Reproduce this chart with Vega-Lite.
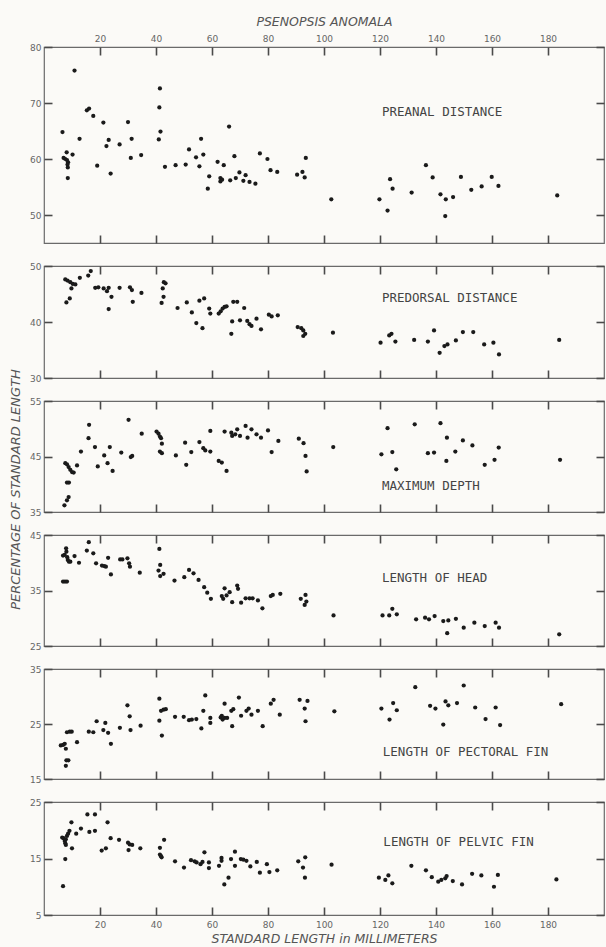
{
  "$schema": "https://vega.github.io/schema/vega-lite/v6.json",
  "background": "#fbfaf7",
  "padding": {"left": 8, "top": 14, "right": 1, "bottom": 3},
  "bounds": "flush",
  "spacing": 23,
  "datasets": {
    "preanal": [
      {"sl":6.6,"pct":64.8},{"sl":10.9,"pct":75.8},{"sl":15.3,"pct":68.7},{"sl":16.1,"pct":69.0},{"sl":17.6,"pct":67.7},{"sl":21.2,"pct":66.5},{"sl":12.7,"pct":63.6},{"sl":8.1,"pct":61.2},{"sl":10.2,"pct":60.8},{"sl":7.0,"pct":60.2},{"sl":7.6,"pct":60.0},{"sl":8.2,"pct":59.8},{"sl":8.6,"pct":59.4},{"sl":8.4,"pct":59.0},{"sl":8.5,"pct":58.5},{"sl":8.5,"pct":56.6},{"sl":19.0,"pct":58.8},{"sl":22.3,"pct":62.3},{"sl":23.1,"pct":63.4},{"sl":23.8,"pct":57.4},{"sl":27.0,"pct":62.6},{"sl":30.0,"pct":66.6},{"sl":31.3,"pct":63.6},{"sl":31.0,"pct":60.2},{"sl":34.7,"pct":60.7},{"sl":41.4,"pct":72.6},{"sl":41.2,"pct":69.2},{"sl":41.6,"pct":64.9},{"sl":41.0,"pct":63.5},{"sl":43.2,"pct":58.6},{"sl":47.0,"pct":58.9},{"sl":50.6,"pct":59.0},{"sl":51.8,"pct":61.7},{"sl":54.3,"pct":60.3},{"sl":55.5,"pct":58.7},{"sl":56.1,"pct":63.6},{"sl":56.9,"pct":60.8},{"sl":59.0,"pct":56.9},{"sl":58.5,"pct":54.7},{"sl":62.0,"pct":59.5},{"sl":64.2,"pct":58.9},{"sl":63.0,"pct":56.6},{"sl":63.0,"pct":56.0},{"sl":63.6,"pct":56.3},{"sl":66.1,"pct":65.8},{"sl":66.5,"pct":56.2},{"sl":68.0,"pct":60.5},{"sl":68.5,"pct":56.6},{"sl":69.8,"pct":57.6},{"sl":71.2,"pct":56.1},{"sl":72.0,"pct":57.1},{"sl":73.4,"pct":55.9},{"sl":75.5,"pct":55.6},{"sl":77.1,"pct":61.0},{"sl":79.8,"pct":60.0},{"sl":80.9,"pct":58.0},{"sl":83.3,"pct":57.7},{"sl":90.4,"pct":57.2},{"sl":92.3,"pct":57.7},{"sl":93.1,"pct":56.7},{"sl":93.5,"pct":60.2},{"sl":102.6,"pct":52.8},{"sl":119.8,"pct":52.8},{"sl":122.7,"pct":50.8},{"sl":123.6,"pct":56.4},{"sl":124.5,"pct":54.7},{"sl":131.3,"pct":54.0},{"sl":136.4,"pct":58.9},{"sl":138.8,"pct":56.7},{"sl":141.6,"pct":53.7},{"sl":143.5,"pct":52.8},{"sl":143.3,"pct":49.8},{"sl":146.1,"pct":53.2},{"sl":148.9,"pct":56.8},{"sl":152.6,"pct":54.5},{"sl":156.3,"pct":55.1},{"sl":159.9,"pct":56.8},{"sl":162.3,"pct":55.2},{"sl":183.3,"pct":53.5}
    ],
    "predorsal": [
      {"sl":7.6,"pct":47.6},{"sl":8.4,"pct":47.4},{"sl":9.4,"pct":47.1},{"sl":10.3,"pct":46.8},{"sl":11.2,"pct":46.7},{"sl":9.8,"pct":46.0},{"sl":9.2,"pct":44.2},{"sl":8.0,"pct":43.5},{"sl":12.8,"pct":47.9},{"sl":15.8,"pct":48.3},{"sl":16.7,"pct":49.1},{"sl":18.3,"pct":46.1},{"sl":19.4,"pct":46.2},{"sl":21.3,"pct":46.0},{"sl":22.5,"pct":45.5},{"sl":23.1,"pct":46.1},{"sl":24.1,"pct":44.5},{"sl":23.1,"pct":42.3},{"sl":27.0,"pct":46.1},{"sl":30.7,"pct":46.2},{"sl":31.4,"pct":45.7},{"sl":31.7,"pct":43.6},{"sl":34.8,"pct":45.2},{"sl":42.8,"pct":47.1},{"sl":43.4,"pct":46.9},{"sl":42.4,"pct":46.0},{"sl":42.7,"pct":44.5},{"sl":42.0,"pct":43.4},{"sl":47.7,"pct":42.5},{"sl":51.0,"pct":43.5},{"sl":52.8,"pct":41.7},{"sl":54.4,"pct":39.8},{"sl":55.5,"pct":43.8},{"sl":57.2,"pct":44.2},{"sl":56.6,"pct":38.9},{"sl":59.0,"pct":42.4},{"sl":59.4,"pct":41.5},{"sl":62.4,"pct":41.5},{"sl":63.1,"pct":41.9},{"sl":63.8,"pct":42.4},{"sl":64.5,"pct":42.7},{"sl":65.2,"pct":42.8},{"sl":67.6,"pct":43.6},{"sl":69.0,"pct":43.6},{"sl":71.5,"pct":42.5},{"sl":67.2,"pct":40.1},{"sl":70.0,"pct":40.3},{"sl":66.9,"pct":37.9},{"sl":72.6,"pct":40.2},{"sl":73.4,"pct":39.6},{"sl":74.1,"pct":39.3},{"sl":75.9,"pct":40.6},{"sl":77.5,"pct":38.7},{"sl":80.3,"pct":41.3},{"sl":81.3,"pct":41.0},{"sl":83.5,"pct":41.2},{"sl":90.6,"pct":39.1},{"sl":91.9,"pct":38.9},{"sl":92.6,"pct":38.5},{"sl":93.3,"pct":37.9},{"sl":92.6,"pct":37.5},{"sl":103.2,"pct":38.1},{"sl":120.2,"pct":36.3},{"sl":123.3,"pct":37.6},{"sl":124.1,"pct":37.9},{"sl":125.5,"pct":36.5},{"sl":132.2,"pct":36.8},{"sl":137.1,"pct":36.5},{"sl":139.3,"pct":38.5},{"sl":141.3,"pct":34.5},{"sl":143.0,"pct":35.7},{"sl":144.1,"pct":36.0},{"sl":147.1,"pct":36.7},{"sl":149.6,"pct":38.2},{"sl":153.3,"pct":38.2},{"sl":157.2,"pct":36.0},{"sl":160.5,"pct":36.3},{"sl":162.5,"pct":34.2},{"sl":184.0,"pct":36.8}
    ],
    "depth": [
      {"sl":7.3,"pct":36.2},{"sl":8.2,"pct":37.1},{"sl":8.8,"pct":37.7},{"sl":8.2,"pct":40.3},{"sl":8.9,"pct":40.3},{"sl":7.6,"pct":43.8},{"sl":8.2,"pct":43.6},{"sl":8.8,"pct":43.1},{"sl":9.4,"pct":42.6},{"sl":10.0,"pct":42.2},{"sl":10.6,"pct":42.1},{"sl":11.8,"pct":43.4},{"sl":13.2,"pct":45.9},{"sl":16.1,"pct":50.7},{"sl":15.9,"pct":48.3},{"sl":18.2,"pct":46.7},{"sl":19.2,"pct":43.2},{"sl":21.5,"pct":45.2},{"sl":22.7,"pct":43.8},{"sl":23.5,"pct":46.7},{"sl":24.5,"pct":42.4},{"sl":27.6,"pct":45.7},{"sl":30.2,"pct":51.6},{"sl":31.0,"pct":44.9},{"sl":31.5,"pct":45.1},{"sl":34.9,"pct":49.1},{"sl":40.2,"pct":49.5},{"sl":40.9,"pct":49.1},{"sl":41.4,"pct":48.6},{"sl":41.8,"pct":48.3},{"sl":42.1,"pct":47.3},{"sl":41.4,"pct":45.9},{"sl":42.1,"pct":45.6},{"sl":47.1,"pct":45.2},{"sl":50.4,"pct":47.5},{"sl":50.8,"pct":43.5},{"sl":52.6,"pct":45.8},{"sl":55.5,"pct":47.6},{"sl":56.9,"pct":46.5},{"sl":57.6,"pct":46.1},{"sl":59.4,"pct":45.9},{"sl":59.4,"pct":49.6},{"sl":62.4,"pct":44.2},{"sl":63.5,"pct":43.9},{"sl":65.2,"pct":42.4},{"sl":64.5,"pct":49.5},{"sl":66.9,"pct":49.3},{"sl":67.2,"pct":48.7},{"sl":68.3,"pct":49.0},{"sl":69.0,"pct":49.9},{"sl":70.0,"pct":48.7},{"sl":72.0,"pct":50.5},{"sl":72.7,"pct":48.4},{"sl":74.1,"pct":49.9},{"sl":75.9,"pct":49.0},{"sl":77.5,"pct":48.4},{"sl":80.0,"pct":49.7},{"sl":81.3,"pct":45.8},{"sl":83.7,"pct":47.8},{"sl":91.0,"pct":48.2},{"sl":92.7,"pct":47.4},{"sl":93.4,"pct":45.1},{"sl":93.8,"pct":42.3},{"sl":103.3,"pct":46.7},{"sl":120.5,"pct":45.4},{"sl":122.7,"pct":50.1},{"sl":124.4,"pct":45.8},{"sl":125.8,"pct":42.7},{"sl":132.4,"pct":50.8},{"sl":137.1,"pct":45.6},{"sl":139.3,"pct":45.7},{"sl":141.6,"pct":51.0},{"sl":143.9,"pct":48.4},{"sl":143.7,"pct":44.2},{"sl":146.9,"pct":45.9},{"sl":149.6,"pct":47.9},{"sl":153.0,"pct":47.0},{"sl":157.4,"pct":43.5},{"sl":160.9,"pct":44.4},{"sl":162.4,"pct":46.6},{"sl":184.3,"pct":44.4}
    ],
    "head": [
      {"sl":6.8,"pct":41.3},{"sl":7.4,"pct":41.4},{"sl":7.9,"pct":42.6},{"sl":8.0,"pct":42.0},{"sl":8.3,"pct":41.0},{"sl":8.5,"pct":40.5},{"sl":8.9,"pct":40.2},{"sl":9.4,"pct":40.2},{"sl":6.8,"pct":36.6},{"sl":7.5,"pct":36.6},{"sl":8.2,"pct":36.6},{"sl":10.9,"pct":41.2},{"sl":12.5,"pct":40.0},{"sl":16.0,"pct":43.7},{"sl":15.3,"pct":42.2},{"sl":17.6,"pct":41.7},{"sl":18.6,"pct":39.9},{"sl":20.7,"pct":39.5},{"sl":21.5,"pct":39.4},{"sl":22.1,"pct":39.3},{"sl":22.9,"pct":40.9},{"sl":23.9,"pct":37.9},{"sl":27.2,"pct":40.6},{"sl":28.0,"pct":40.6},{"sl":29.8,"pct":40.8},{"sl":30.4,"pct":39.9},{"sl":30.7,"pct":39.3},{"sl":34.2,"pct":38.2},{"sl":41.2,"pct":42.5},{"sl":41.5,"pct":39.6},{"sl":40.9,"pct":38.6},{"sl":41.5,"pct":37.6},{"sl":42.7,"pct":38.0},{"sl":46.6,"pct":36.8},{"sl":50.1,"pct":37.4},{"sl":51.8,"pct":38.7},{"sl":53.4,"pct":38.1},{"sl":55.2,"pct":36.9},{"sl":57.2,"pct":35.6},{"sl":58.3,"pct":34.6},{"sl":59.6,"pct":33.5},{"sl":63.5,"pct":34.0},{"sl":64.0,"pct":33.5},{"sl":65.2,"pct":34.1},{"sl":64.5,"pct":35.4},{"sl":66.3,"pct":34.7},{"sl":67.2,"pct":32.9},{"sl":69.0,"pct":35.9},{"sl":69.3,"pct":35.3},{"sl":70.4,"pct":32.8},{"sl":72.0,"pct":33.6},{"sl":73.4,"pct":33.6},{"sl":74.5,"pct":33.6},{"sl":76.4,"pct":33.2},{"sl":78.0,"pct":31.8},{"sl":81.0,"pct":34.0},{"sl":81.7,"pct":34.2},{"sl":84.4,"pct":34.4},{"sl":91.7,"pct":33.5},{"sl":93.4,"pct":34.2},{"sl":93.7,"pct":33.0},{"sl":93.1,"pct":32.4},{"sl":103.4,"pct":30.5},{"sl":120.9,"pct":30.5},{"sl":123.3,"pct":30.5},{"sl":124.4,"pct":31.7},{"sl":126.0,"pct":30.7},{"sl":132.9,"pct":29.8},{"sl":136.1,"pct":30.1},{"sl":137.5,"pct":29.8},{"sl":139.5,"pct":30.4},{"sl":142.6,"pct":29.5},{"sl":144.4,"pct":29.6},{"sl":144.0,"pct":27.3},{"sl":147.1,"pct":29.9},{"sl":149.9,"pct":28.3},{"sl":153.7,"pct":29.2},{"sl":157.4,"pct":28.6},{"sl":161.3,"pct":29.2},{"sl":162.5,"pct":28.3},{"sl":184.0,"pct":27.1}
    ],
    "pectoral": [
      {"sl":6.0,"pct":21.1},{"sl":6.8,"pct":21.2},{"sl":7.4,"pct":21.4},{"sl":7.8,"pct":20.5},{"sl":8.0,"pct":18.4},{"sl":8.7,"pct":18.4},{"sl":7.8,"pct":17.4},{"sl":8.2,"pct":23.5},{"sl":9.2,"pct":23.6},{"sl":9.9,"pct":23.6},{"sl":11.8,"pct":21.7},{"sl":16.0,"pct":23.6},{"sl":17.6,"pct":23.5},{"sl":18.8,"pct":25.5},{"sl":21.9,"pct":25.2},{"sl":21.2,"pct":23.9},{"sl":22.9,"pct":23.4},{"sl":23.9,"pct":21.4},{"sl":27.1,"pct":24.3},{"sl":29.8,"pct":28.4},{"sl":30.6,"pct":26.4},{"sl":30.9,"pct":23.9},{"sl":34.5,"pct":24.7},{"sl":41.2,"pct":29.6},{"sl":41.2,"pct":25.6},{"sl":42.1,"pct":22.9},{"sl":41.8,"pct":27.4},{"sl":42.7,"pct":27.6},{"sl":43.5,"pct":27.7},{"sl":46.8,"pct":26.3},{"sl":49.9,"pct":26.3},{"sl":51.8,"pct":25.7},{"sl":52.8,"pct":25.8},{"sl":54.4,"pct":25.9},{"sl":56.2,"pct":24.2},{"sl":56.9,"pct":27.4},{"sl":57.6,"pct":30.2},{"sl":59.4,"pct":26.1},{"sl":59.4,"pct":25.2},{"sl":63.1,"pct":26.2},{"sl":63.5,"pct":26.5},{"sl":63.8,"pct":25.8},{"sl":64.5,"pct":26.1},{"sl":65.4,"pct":26.1},{"sl":64.5,"pct":28.7},{"sl":66.9,"pct":27.4},{"sl":67.6,"pct":27.7},{"sl":67.2,"pct":24.6},{"sl":69.6,"pct":29.8},{"sl":70.4,"pct":26.5},{"sl":72.3,"pct":27.4},{"sl":73.1,"pct":27.8},{"sl":74.1,"pct":26.7},{"sl":76.4,"pct":27.4},{"sl":78.1,"pct":24.6},{"sl":81.0,"pct":28.7},{"sl":82.0,"pct":29.4},{"sl":84.2,"pct":26.7},{"sl":91.3,"pct":29.4},{"sl":93.1,"pct":27.8},{"sl":94.1,"pct":29.2},{"sl":93.4,"pct":25.5},{"sl":103.7,"pct":27.3},{"sl":120.5,"pct":27.8},{"sl":123.4,"pct":25.8},{"sl":124.7,"pct":28.8},{"sl":126.0,"pct":27.5},{"sl":132.6,"pct":31.7},{"sl":137.9,"pct":28.3},{"sl":139.8,"pct":27.8},{"sl":142.6,"pct":24.9},{"sl":143.4,"pct":29.1},{"sl":144.4,"pct":28.4},{"sl":147.5,"pct":28.8},{"sl":149.9,"pct":32.0},{"sl":154.0,"pct":28.0},{"sl":157.7,"pct":25.9},{"sl":161.3,"pct":28.0},{"sl":162.9,"pct":24.8},{"sl":184.7,"pct":28.6}
    ],
    "pelvic": [
      {"sl":6.8,"pct":10.1},{"sl":7.6,"pct":14.9},{"sl":6.5,"pct":18.7},{"sl":7.0,"pct":18.6},{"sl":7.4,"pct":18.1},{"sl":7.6,"pct":17.7},{"sl":7.8,"pct":18.4},{"sl":8.2,"pct":19.0},{"sl":7.8,"pct":17.4},{"sl":8.6,"pct":19.4},{"sl":9.1,"pct":19.9},{"sl":9.8,"pct":21.4},{"sl":10.0,"pct":16.8},{"sl":11.5,"pct":19.4},{"sl":13.2,"pct":20.3},{"sl":15.5,"pct":22.8},{"sl":18.2,"pct":22.8},{"sl":16.2,"pct":19.7},{"sl":18.2,"pct":19.9},{"sl":20.6,"pct":16.4},{"sl":22.1,"pct":16.8},{"sl":22.7,"pct":21.4},{"sl":23.8,"pct":18.6},{"sl":26.8,"pct":18.3},{"sl":30.0,"pct":17.8},{"sl":30.6,"pct":17.5},{"sl":31.5,"pct":17.4},{"sl":30.2,"pct":16.5},{"sl":34.4,"pct":16.8},{"sl":41.4,"pct":16.9},{"sl":42.9,"pct":18.3},{"sl":41.4,"pct":15.7},{"sl":42.0,"pct":15.2},{"sl":41.8,"pct":15.4},{"sl":46.8,"pct":14.5},{"sl":50.0,"pct":13.4},{"sl":52.5,"pct":14.7},{"sl":53.8,"pct":14.5},{"sl":54.5,"pct":14.3},{"sl":55.9,"pct":14.0},{"sl":56.6,"pct":14.4},{"sl":57.3,"pct":16.1},{"sl":58.9,"pct":14.3},{"sl":58.9,"pct":13.3},{"sl":62.5,"pct":13.7},{"sl":63.4,"pct":15.1},{"sl":63.4,"pct":14.6},{"sl":64.4,"pct":10.4},{"sl":65.9,"pct":11.6},{"sl":66.8,"pct":14.9},{"sl":68.2,"pct":16.2},{"sl":68.2,"pct":13.7},{"sl":70.3,"pct":14.9},{"sl":71.2,"pct":14.8},{"sl":72.3,"pct":14.6},{"sl":73.7,"pct":13.6},{"sl":76.0,"pct":14.4},{"sl":77.1,"pct":12.5},{"sl":79.6,"pct":14.0},{"sl":80.5,"pct":12.6},{"sl":83.3,"pct":12.9},{"sl":90.8,"pct":14.5},{"sl":92.5,"pct":13.4},{"sl":93.3,"pct":15.2},{"sl":93.2,"pct":11.6},{"sl":102.7,"pct":13.9},{"sl":119.6,"pct":11.6},{"sl":121.9,"pct":11.2},{"sl":123.0,"pct":12.0},{"sl":124.4,"pct":10.6},{"sl":131.2,"pct":13.7},{"sl":136.4,"pct":12.9},{"sl":138.5,"pct":11.7},{"sl":140.8,"pct":10.9},{"sl":141.9,"pct":11.2},{"sl":143.3,"pct":11.5},{"sl":143.8,"pct":11.9},{"sl":146.0,"pct":11.0},{"sl":149.3,"pct":10.4},{"sl":152.9,"pct":12.3},{"sl":156.2,"pct":12.0},{"sl":160.7,"pct":10.0},{"sl":162.1,"pct":12.1},{"sl":183.0,"pct":11.3}
    ]
  },
  "vconcat": [
    {
      "width": 560, "height": 196,
      "layer": [
        {
          "data": {"name": "preanal"},
          "mark": {"type": "circle", "size": 18, "color": "#1a1a1a", "opacity": 1},
          "encoding": {
            "x": {"field": "sl", "type": "quantitative", "scale": {"domain": [0, 200], "nice": false}, "axis": {"orient": "bottom", "values": [20, 40, 60, 80, 100, 120, 140, 160, 180], "labels": false, "title": null}},
            "y": {"field": "pct", "type": "quantitative", "scale": {"domain": [45, 80], "nice": false, "zero": false}, "axis": {"orient": "left", "values": [50, 60, 70, 80], "title": null}}
          }
        },
        {
          "data": {"values": [{"label": "PREANAL  DISTANCE"}]},
          "mark": {"type": "text", "align": "left", "baseline": "middle", "font": "DejaVu Sans Mono", "fontSize": 12.5, "color": "#444"},
          "encoding": {
            "x": {"datum": 120.7, "type": "quantitative", "axis": {"orient": "top", "values": [20, 40, 60, 80, 100, 120, 140, 160, 180], "labels": true, "labelPadding": 4, "title": "PSENOPSIS  ANOMALA", "titlePadding": 6, "titleFontSize": 12.5}},
            "y": {"datum": 68.4, "type": "quantitative", "axis": {"orient": "right", "labels": false, "values": [50, 60, 70, 80], "title": null}},
            "text": {"field": "label"}
          }
        }
      ]
    },
    {
      "width": 560, "height": 112,
      "layer": [
        {
          "data": {"name": "predorsal"},
          "mark": {"type": "circle", "size": 18, "color": "#1a1a1a", "opacity": 1},
          "encoding": {
            "x": {"field": "sl", "type": "quantitative", "scale": {"domain": [0, 200], "nice": false}, "axis": {"orient": "bottom", "values": [20, 40, 60, 80, 100, 120, 140, 160, 180], "labels": false, "title": null}},
            "y": {"field": "pct", "type": "quantitative", "scale": {"domain": [30, 50], "nice": false, "zero": false}, "axis": {"orient": "left", "values": [30, 40, 50], "title": null}}
          }
        },
        {
          "data": {"values": [{"label": "PREDORSAL  DISTANCE"}]},
          "mark": {"type": "text", "align": "left", "baseline": "middle", "font": "DejaVu Sans Mono", "fontSize": 12.5, "color": "#444"},
          "encoding": {
            "x": {"datum": 120.7, "type": "quantitative", "axis": {"orient": "top", "values": [20, 40, 60, 80, 100, 120, 140, 160, 180], "labels": false, "title": null}},
            "y": {"datum": 44.3, "type": "quantitative", "axis": {"orient": "right", "labels": false, "values": [30, 40, 50], "title": null}},
            "text": {"field": "label"}
          }
        }
      ]
    },
    {
      "width": 560, "height": 111,
      "layer": [
        {
          "data": {"name": "depth"},
          "mark": {"type": "circle", "size": 18, "color": "#1a1a1a", "opacity": 1},
          "encoding": {
            "x": {"field": "sl", "type": "quantitative", "scale": {"domain": [0, 200], "nice": false}, "axis": {"orient": "bottom", "values": [20, 40, 60, 80, 100, 120, 140, 160, 180], "labels": false, "title": null}},
            "y": {"field": "pct", "type": "quantitative", "scale": {"domain": [35, 55], "nice": false, "zero": false}, "axis": {"orient": "left", "values": [35, 45, 55], "title": "PERCENTAGE  OF  STANDARD  LENGTH", "titleX": -37, "titleY": 88, "titleAlign": "center", "titleBaseline": "middle", "titleAngle": -90, "titleFontSize": 13}}
          }
        },
        {
          "data": {"values": [{"label": "MAXIMUM  DEPTH"}]},
          "mark": {"type": "text", "align": "left", "baseline": "middle", "font": "DejaVu Sans Mono", "fontSize": 12.5, "color": "#444"},
          "encoding": {
            "x": {"datum": 120.7, "type": "quantitative", "axis": {"orient": "top", "values": [20, 40, 60, 80, 100, 120, 140, 160, 180], "labels": false, "title": null}},
            "y": {"datum": 39.6, "type": "quantitative", "axis": {"orient": "right", "labels": false, "values": [35, 45, 55], "title": null}},
            "text": {"field": "label"}
          }
        }
      ]
    },
    {
      "width": 560, "height": 111,
      "layer": [
        {
          "data": {"name": "head"},
          "mark": {"type": "circle", "size": 18, "color": "#1a1a1a", "opacity": 1},
          "encoding": {
            "x": {"field": "sl", "type": "quantitative", "scale": {"domain": [0, 200], "nice": false}, "axis": {"orient": "bottom", "values": [20, 40, 60, 80, 100, 120, 140, 160, 180], "labels": false, "title": null}},
            "y": {"field": "pct", "type": "quantitative", "scale": {"domain": [25, 45], "nice": false, "zero": false}, "axis": {"orient": "left", "values": [25, 35, 45], "title": null}}
          }
        },
        {
          "data": {"values": [{"label": "LENGTH  OF  HEAD"}]},
          "mark": {"type": "text", "align": "left", "baseline": "middle", "font": "DejaVu Sans Mono", "fontSize": 12.5, "color": "#444"},
          "encoding": {
            "x": {"datum": 120.7, "type": "quantitative", "axis": {"orient": "top", "values": [20, 40, 60, 80, 100, 120, 140, 160, 180], "labels": false, "title": null}},
            "y": {"datum": 37.3, "type": "quantitative", "axis": {"orient": "right", "labels": false, "values": [25, 35, 45], "title": null}},
            "text": {"field": "label"}
          }
        }
      ]
    },
    {
      "width": 560, "height": 110,
      "layer": [
        {
          "data": {"name": "pectoral"},
          "mark": {"type": "circle", "size": 18, "color": "#1a1a1a", "opacity": 1},
          "encoding": {
            "x": {"field": "sl", "type": "quantitative", "scale": {"domain": [0, 200], "nice": false}, "axis": {"orient": "bottom", "values": [20, 40, 60, 80, 100, 120, 140, 160, 180], "labels": false, "title": null}},
            "y": {"field": "pct", "type": "quantitative", "scale": {"domain": [15, 35], "nice": false, "zero": false}, "axis": {"orient": "left", "values": [15, 25, 35], "title": null}}
          }
        },
        {
          "data": {"values": [{"label": "LENGTH  OF  PECTORAL  FIN"}]},
          "mark": {"type": "text", "align": "left", "baseline": "middle", "font": "DejaVu Sans Mono", "fontSize": 12.5, "color": "#444"},
          "encoding": {
            "x": {"datum": 121.0, "type": "quantitative", "axis": {"orient": "top", "values": [20, 40, 60, 80, 100, 120, 140, 160, 180], "labels": false, "title": null}},
            "y": {"datum": 20.0, "type": "quantitative", "axis": {"orient": "right", "labels": false, "values": [15, 25, 35], "title": null}},
            "text": {"field": "label"}
          }
        }
      ]
    },
    {
      "width": 560, "height": 113,
      "layer": [
        {
          "data": {"name": "pelvic"},
          "mark": {"type": "circle", "size": 18, "color": "#1a1a1a", "opacity": 1},
          "encoding": {
            "x": {"field": "sl", "type": "quantitative", "scale": {"domain": [0, 200], "nice": false}, "axis": {"orient": "bottom", "values": [20, 40, 60, 80, 100, 120, 140, 160, 180], "labels": true, "labelPadding": 5, "title": "STANDARD  LENGTH  in  MILLIMETERS", "titlePadding": 3, "titleFontSize": 12.5}},
            "y": {"field": "pct", "type": "quantitative", "scale": {"domain": [5, 25], "nice": false, "zero": false}, "axis": {"orient": "left", "values": [5, 15, 25], "title": null}}
          }
        },
        {
          "data": {"values": [{"label": "LENGTH  OF  PELVIC  FIN"}]},
          "mark": {"type": "text", "align": "left", "baseline": "middle", "font": "DejaVu Sans Mono", "fontSize": 12.5, "color": "#444"},
          "encoding": {
            "x": {"datum": 121.2, "type": "quantitative", "axis": {"orient": "top", "values": [20, 40, 60, 80, 100, 120, 140, 160, 180], "labels": false, "title": null}},
            "y": {"datum": 17.9, "type": "quantitative", "axis": {"orient": "right", "labels": false, "values": [5, 15, 25], "title": null}},
            "text": {"field": "label"}
          }
        }
      ]
    }
  ],
  "config": {
    "view": {"stroke": "#6a6a6a", "strokeWidth": 1.2},
    "axis": {
      "domain": false,
      "grid": false,
      "ticks": true,
      "offset": -8,
      "tickSize": 8,
      "tickColor": "#4a4a4a",
      "tickWidth": 1.6,
      "tickOpacity": 1,
      "labelColor": "#666",
      "labelFont": "DejaVu Sans",
      "labelFontSize": 9,
      "labelPadding": 3,
      "labelFlush": false,
      "labelOverlap": false,
      "titleColor": "#555",
      "titleFont": "DejaVu Sans",
      "titleFontSize": 11,
      "titleFontStyle": "italic",
      "titleFontWeight": "normal"
    }
  }
}
